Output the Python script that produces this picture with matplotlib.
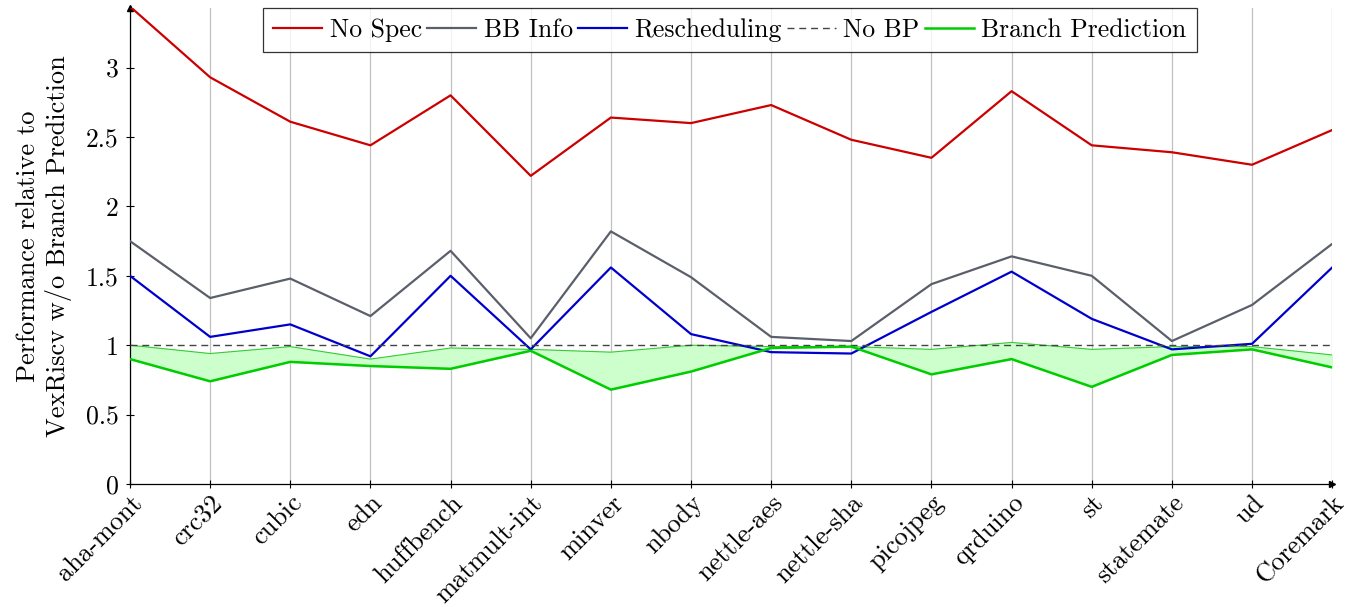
import matplotlib
matplotlib.use("Agg")
import matplotlib.pyplot as plt
import numpy as np

plt.rcParams['font.family'] = ['cmr10', 'DejaVu Serif']
plt.rcParams['mathtext.fontset'] = 'cm'
plt.rcParams['axes.formatter.use_mathtext'] = True

benchmarks = ['aha-mont', 'crc32', 'cubic', 'edn', 'huffbench', 'matmult-int', 'minver',
              'nbody', 'nettle-aes', 'nettle-sha', 'picojpeg', 'qrduino', 'st',
              'statemate', 'ud', 'Coremark']

no_spec = [3.44, 2.93, 2.61, 2.44, 2.80, 2.22, 2.64, 2.60, 2.73, 2.48, 2.35, 2.83, 2.44, 2.39, 2.30, 2.55]
bb_info = [1.75, 1.34, 1.48, 1.21, 1.68, 1.05, 1.82, 1.49, 1.06, 1.03, 1.44, 1.64, 1.50, 1.03, 1.29, 1.73]
rescheduling = [1.50, 1.06, 1.15, 0.92, 1.50, 0.97, 1.56, 1.08, 0.95, 0.94, 1.24, 1.53, 1.19, 0.97, 1.01, 1.56]
no_bp = [1.0] * len(benchmarks)
branch_pred = [0.90, 0.74, 0.88, 0.85, 0.83, 0.96, 0.68, 0.81, 0.98, 0.99, 0.79, 0.90, 0.70, 0.93, 0.97, 0.84]
branch_pred_upper = [1.00, 0.94, 0.99, 0.90, 0.98, 0.97, 0.95, 1.00, 0.99, 0.99, 0.97, 1.02, 0.97, 0.99, 0.99, 0.93]

x = np.arange(len(benchmarks))

fig = plt.figure(figsize=(13.47, 6.07), dpi=100)
ax = fig.add_axes([0.0965, 0.2026, 0.8925, 0.7844])

ax.fill_between(x, branch_pred, branch_pred_upper, color='#ccffcc', zorder=1)
ax.plot(x, branch_pred_upper, color='#33cc33', lw=0.8, zorder=2)
ax.plot(x, no_spec, color='#cc0000', lw=1.6, label='No Spec', zorder=3)
ax.plot(x, bb_info, color='#5a5f6a', lw=1.6, label='BB Info', zorder=3)
ax.plot(x, rescheduling, color='#0000cc', lw=1.6, label='Rescheduling', zorder=3)
ax.plot(x, no_bp, color='#444444', lw=1.0, ls=(0, (5, 3.5)), label='No BP', zorder=3)
ax.plot(x, branch_pred, color='#00cc00', lw=1.8, label='Branch Prediction', zorder=3)

ax.set_xlim(0, len(benchmarks) - 1)
ax.set_ylim(0, 3.43)
ax.set_xticks(x)
ax.set_xticklabels(benchmarks, rotation=45, ha='right', rotation_mode='anchor', fontsize=19)
ax.set_yticks(np.arange(0, 3.01, 0.5))
ax.set_yticklabels(['0', '0.5', '1', '1.5', '2', '2.5', '3'], fontsize=18.5)
ax.tick_params(axis='both', direction='inout', length=6, width=0.8)
ax.tick_params(axis='x', pad=2)
ax.tick_params(axis='y', pad=5)
ax.grid(axis='x', color='#c0c0c0', lw=0.9, zorder=0)
ax.set_axisbelow(True)

for side in ['top', 'right']:
    ax.spines[side].set_visible(False)
ax.spines['left'].set_linewidth(0.9)
ax.spines['bottom'].set_linewidth(0.9)
ax.plot(1, 0, '>k', transform=ax.transAxes, clip_on=False, markersize=4)
ax.plot(0, 1, '^k', transform=ax.transAxes, clip_on=False, markersize=4)

ax.set_ylabel('Performance relative to\nVexRiscv w/o Branch Prediction', fontsize=19,
              linespacing=1.25, labelpad=10)

leg = ax.legend(loc='upper center', ncol=5, fontsize=18.5, frameon=True, fancybox=False,
                edgecolor='black', borderpad=0.4, handlelength=1.9, handletextpad=0.3,
                columnspacing=0.2, bbox_to_anchor=(0.499, 1.0), borderaxespad=0.0)
leg.get_frame().set_linewidth(0.9)

fig.savefig('out.png', dpi=100)
